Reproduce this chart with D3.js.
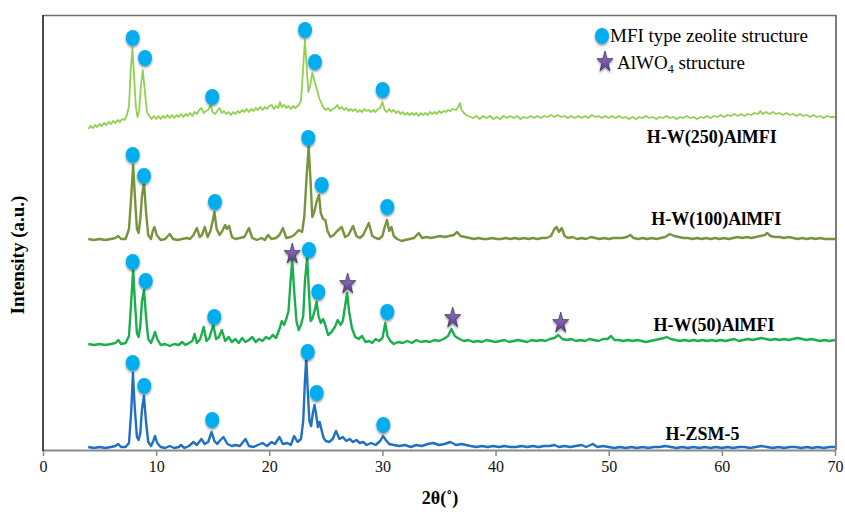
<!DOCTYPE html>
<html>
<head>
<meta charset="utf-8">
<script src="https://cdn.jsdelivr.net/npm/d3@7/dist/d3.min.js"></script>
<style>
  html, body { margin: 0; padding: 0; background: #fff; }
  svg { display: block; }
  text { font-family: "Liberation Serif", "Times New Roman", serif; }
</style>
</head>
<body>
<svg id="chart" width="845" height="514"></svg>
<script>
// ---------------- DATA ----------------
const xTicks = [0, 10, 20, 30, 40, 50, 60, 70];
const seriesNames = ["H-ZSM-5", "H-W(50)AlMFI", "H-W(100)AlMFI", "H-W(250)AlMFI"];
const seriesColors = ["#1f6fc2", "#1aae4c", "#77933c", "#92d050"];

// 2θ (deg), intensity (a.u., stacked)
const hzsm5 = [[4.0,4],[4.5,3],[5.0,4],[5.5,3],[6.0,4],[6.4,5],[6.65,7],[6.9,4],[7.3,4],[7.6,8],[7.8,40],[7.95,78],[8.1,45],[8.3,14],[8.45,11],[8.6,18],[8.75,42],[8.92,55],[9.1,30],[9.3,9],[9.55,5],[9.75,10],[9.9,15],[10.1,8],[10.4,4],[10.8,3],[11.2,5],[11.6,3],[12.0,4],[12.2,6],[12.5,3],[12.9,5],[13.3,9],[13.6,6],[14.0,12],[14.3,7],[14.6,9],[14.9,19],[15.15,10],[15.4,7],[15.6,10],[15.95,14],[16.3,7],[16.7,5],[17.0,6],[17.4,5],[17.9,12],[18.2,5],[18.6,4],[19.0,6],[19.4,8],[19.8,5],[20.2,9],[20.5,7],[20.9,14],[21.2,7],[21.6,8],[21.9,6],[22.2,15],[22.5,9],[22.8,12],[23.0,30],[23.15,70],[23.27,93],[23.4,60],[23.55,30],[23.7,25],[23.85,38],[24.0,46],[24.15,36],[24.3,24],[24.45,29],[24.6,22],[24.8,13],[25.0,10],[25.3,9],[25.6,12],[25.9,20],[26.2,12],[26.5,14],[26.8,10],[27.1,12],[27.4,9],[27.7,11],[28.0,8],[28.3,9],[28.6,6],[29.0,8],[29.4,6],[29.8,10],[30.05,15],[30.3,11],[30.6,7],[31.0,6],[31.5,5],[32.0,6],[32.5,4],[33.0,6],[33.5,5],[34.0,7],[34.5,8],[35.0,6],[35.5,7],[36.0,9],[36.5,6],[37.0,7],[37.4,6],[37.8,5],[38.3,4],[38.8,5],[39.3,4],[39.8,5],[40.3,4],[40.8,5],[41.3,4],[41.8,4],[42.3,5],[42.8,4],[43.3,5],[43.8,4],[44.3,5],[44.8,5],[45.2,6],[45.6,4],[46.1,5],[46.6,4],[47.1,5],[47.6,6],[48.0,4],[48.6,7],[49.0,4],[49.5,5],[50.0,4],[50.5,3],[51.0,4],[51.5,3],[52.0,4],[52.5,3],[53.0,4],[53.5,3],[54.0,4],[54.5,4],[55.0,5],[55.5,4],[56.0,3],[56.5,4],[57.0,3],[57.5,4],[58.0,3],[58.5,4],[59.0,3],[59.5,4],[60.0,3],[60.5,4],[61.0,3],[61.5,4],[62.0,4],[62.5,3],[63.0,4],[63.5,5],[64.0,4],[64.5,3],[65.0,4],[65.5,3],[66.0,4],[66.5,4],[67.0,3],[67.5,4],[68.0,3],[68.5,4],[69.0,3],[69.5,4],[70.0,4]];

const hw50 = [[4.0,107],[4.5,106],[5.0,107],[5.5,106],[6.0,107],[6.4,108],[6.65,111],[6.9,107],[7.3,108],[7.6,115],[7.8,150],[7.97,181],[8.12,150],[8.3,118],[8.45,114],[8.6,125],[8.75,150],[8.93,161],[9.1,135],[9.3,112],[9.55,108],[9.75,114],[9.9,119],[10.1,112],[10.4,106],[10.8,107],[11.2,105],[11.6,107],[12.0,106],[12.3,109],[12.6,106],[12.9,108],[13.2,110],[13.4,117],[13.6,108],[13.9,112],[14.2,124],[14.45,110],[14.7,113],[15.05,126],[15.3,112],[15.55,114],[15.8,121],[16.1,110],[16.4,114],[16.7,109],[17.0,112],[17.3,108],[17.6,113],[17.9,109],[18.2,111],[18.5,114],[18.8,109],[19.1,112],[19.4,110],[19.7,114],[20.0,112],[20.3,116],[20.6,113],[20.9,122],[21.1,130],[21.3,126],[21.5,132],[21.7,140],[21.85,165],[22.03,191],[22.2,160],[22.4,130],[22.6,121],[22.8,126],[23.0,135],[23.15,170],[23.35,194],[23.5,160],[23.65,130],[23.8,132],[24.0,140],[24.18,149],[24.35,135],[24.55,128],[24.75,132],[24.95,126],[25.2,116],[25.5,119],[25.8,124],[26.05,131],[26.3,126],[26.5,130],[26.7,145],[26.88,158],[27.05,140],[27.3,123],[27.6,114],[27.9,112],[28.2,115],[28.5,109],[28.8,110],[29.1,108],[29.4,112],[29.7,110],[30.0,113],[30.25,128],[30.45,115],[30.7,110],[31.0,107],[31.4,109],[31.8,108],[32.2,110],[32.6,108],[33.0,111],[33.4,109],[33.8,110],[34.2,109],[34.6,111],[35.0,110],[35.4,112],[35.8,115],[36.1,122],[36.4,115],[36.8,112],[37.2,110],[37.6,111],[38.0,109],[38.4,110],[38.8,109],[39.2,111],[39.6,110],[40.0,109],[40.4,110],[40.8,111],[41.2,109],[41.6,110],[42.0,111],[42.4,110],[42.8,109],[43.2,111],[43.6,110],[44.0,111],[44.4,110],[44.8,112],[45.2,113],[45.55,116],[45.9,112],[46.3,111],[46.7,112],[47.1,110],[47.5,111],[47.9,110],[48.3,112],[48.7,111],[49.1,110],[49.5,112],[49.9,112],[50.2,115],[50.5,111],[50.9,111],[51.3,110],[51.7,111],[52.1,110],[52.5,111],[52.9,110],[53.3,109],[53.7,110],[54.1,111],[54.5,112],[54.9,113],[55.1,114],[55.5,112],[55.9,111],[56.3,110],[56.7,111],[57.1,110],[57.5,111],[57.9,110],[58.3,111],[58.7,110],[59.1,111],[59.5,110],[59.9,111],[60.3,110],[60.7,111],[61.1,112],[61.5,110],[61.9,111],[62.3,112],[62.7,111],[63.1,112],[63.5,113],[63.9,112],[64.3,111],[64.7,112],[65.1,111],[65.5,112],[65.9,111],[66.3,112],[66.7,113],[67.1,112],[67.5,111],[67.9,112],[68.3,111],[68.7,110],[69.1,111],[69.5,110],[70.0,111]];

const hw100 = [[4.0,212],[4.5,211],[5.0,212],[5.5,211],[6.0,212],[6.4,213],[6.65,215],[6.9,212],[7.3,212],[7.6,222],[7.8,255],[7.97,286],[8.12,255],[8.3,222],[8.45,218],[8.6,232],[8.75,255],[8.93,269],[9.1,240],[9.3,216],[9.55,212],[9.7,220],[9.85,224],[10.05,216],[10.4,211],[10.8,212],[11.2,217],[11.5,212],[11.9,211],[12.3,212],[12.7,213],[13.0,212],[13.3,216],[13.6,223],[13.85,214],[14.05,216],[14.3,224],[14.55,214],[14.8,220],[15.0,230],[15.15,239],[15.35,222],[15.6,216],[15.85,220],[16.1,226],[16.25,222],[16.45,225],[16.7,214],[17.0,212],[17.4,213],[17.8,214],[18.2,223],[18.5,213],[18.9,211],[19.3,213],[19.6,211],[19.9,216],[20.2,212],[20.6,213],[20.9,216],[21.2,223],[21.5,213],[21.9,214],[22.2,216],[22.6,221],[22.9,219],[23.1,235],[23.3,275],[23.48,304],[23.65,270],[23.8,234],[23.95,238],[24.2,250],[24.4,256],[24.55,238],[24.75,232],[24.95,231],[25.15,220],[25.4,214],[25.7,216],[26.0,220],[26.4,224],[26.7,214],[27.0,216],[27.4,225],[27.7,215],[28.0,213],[28.3,216],[28.8,228],[29.1,215],[29.4,213],[29.7,212],[30.0,215],[30.2,224],[30.4,231],[30.6,220],[30.8,224],[31.0,215],[31.3,212],[31.7,210],[32.0,211],[32.4,212],[32.8,213],[33.2,218],[33.5,213],[33.9,214],[34.3,213],[34.7,214],[35.1,215],[35.5,214],[35.9,215],[36.3,216],[36.6,219],[36.9,215],[37.3,214],[37.7,213],[38.1,212],[38.5,213],[38.9,212],[39.3,212],[39.7,213],[40.1,212],[40.5,212],[40.9,213],[41.3,212],[41.7,213],[42.1,212],[42.5,213],[42.9,212],[43.3,213],[43.7,212],[44.1,213],[44.5,213],[44.9,215],[45.2,222],[45.4,224],[45.6,219],[45.85,223],[46.1,215],[46.4,213],[46.8,214],[47.2,212],[47.6,213],[48.0,212],[48.4,214],[48.8,213],[49.2,212],[49.6,213],[50.0,212],[50.4,213],[50.8,213],[51.2,213],[51.6,214],[51.9,216],[52.2,213],[52.6,212],[53.0,213],[53.4,212],[53.8,213],[54.2,212],[54.6,213],[55.0,214],[55.4,217],[55.8,215],[56.2,214],[56.6,213],[57.0,213],[57.4,212],[57.8,213],[58.2,212],[58.6,213],[59.0,212],[59.4,213],[59.8,212],[60.2,213],[60.6,212],[61.0,213],[61.4,214],[61.8,213],[62.2,214],[62.6,213],[63.0,214],[63.4,215],[63.8,216],[64.0,218],[64.3,215],[64.7,214],[65.1,214],[65.5,213],[65.9,214],[66.3,213],[66.7,212],[67.1,213],[67.5,212],[67.9,213],[68.3,212],[68.7,213],[69.1,212],[69.5,212],[70.0,212]];

const hw250 = [[4.0,322],[4.2,325],[4.4,323],[4.6,326],[4.8,324],[5.0,327],[5.2,325],[5.4,328],[5.6,326],[5.8,329],[6.0,327],[6.2,330],[6.4,328],[6.6,331],[6.8,329],[7.0,332],[7.2,331],[7.4,335],[7.6,345],[7.75,380],[7.9,403],[8.05,375],[8.2,345],[8.35,334],[8.5,340],[8.65,365],[8.82,381],[9.0,360],[9.2,338],[9.4,335],[9.6,332],[9.8,335],[10.0,332],[10.2,335],[10.4,332],[10.6,335],[10.8,333],[11.0,336],[11.2,333],[11.4,336],[11.6,333],[11.8,336],[12.0,334],[12.2,337],[12.4,334],[12.6,337],[12.8,335],[13.0,338],[13.2,335],[13.4,339],[13.6,337],[13.8,341],[14.0,343],[14.2,338],[14.4,340],[14.6,341],[14.8,346],[15.0,339],[15.2,337],[15.4,340],[15.6,343],[15.8,338],[16.0,340],[16.2,337],[16.4,339],[16.6,336],[16.8,339],[17.0,337],[17.2,340],[17.4,338],[17.6,341],[17.8,339],[18.0,342],[18.2,339],[18.4,342],[18.6,340],[18.8,343],[19.0,341],[19.2,344],[19.4,341],[19.6,344],[19.8,342],[20.0,345],[20.2,346],[20.4,342],[20.6,345],[20.8,343],[20.95,349],[21.1,344],[21.3,346],[21.5,343],[21.7,345],[21.9,342],[22.1,345],[22.3,343],[22.6,346],[22.8,350],[22.95,375],[23.15,411],[23.3,385],[23.45,359],[23.6,365],[23.8,378],[23.95,372],[24.1,366],[24.25,360],[24.4,353],[24.6,348],[24.8,343],[25.0,341],[25.2,343],[25.4,340],[25.6,342],[25.8,343],[26.0,346],[26.2,342],[26.4,344],[26.6,341],[26.8,343],[27.0,340],[27.2,342],[27.4,340],[27.6,342],[27.8,339],[28.0,341],[28.2,339],[28.4,342],[28.6,340],[28.8,341],[29.0,339],[29.2,341],[29.4,339],[29.6,342],[29.8,343],[30.0,349],[30.2,341],[30.4,339],[30.6,342],[30.8,339],[31.0,341],[31.2,338],[31.4,340],[31.6,337],[31.8,339],[32.0,336],[32.2,338],[32.4,336],[32.6,338],[32.8,336],[33.0,338],[33.2,335],[33.4,338],[33.6,336],[33.8,338],[34.0,336],[34.2,339],[34.4,337],[34.6,339],[34.8,337],[35.0,340],[35.2,338],[35.4,340],[35.6,339],[35.8,341],[36.0,340],[36.2,342],[36.5,341],[36.7,344],[36.85,348],[37.0,341],[37.2,338],[37.4,336],[37.6,335],[37.8,334],[38.0,333],[38.3,335],[38.6,332],[38.9,335],[39.2,333],[39.5,335],[39.8,332],[40.1,334],[40.4,332],[40.7,335],[41.0,333],[41.3,335],[41.6,333],[41.9,335],[42.2,332],[42.5,334],[42.8,333],[43.1,335],[43.4,333],[43.7,335],[44.0,333],[44.3,335],[44.6,334],[44.9,336],[45.2,334],[45.5,336],[45.8,334],[46.1,335],[46.4,333],[46.7,335],[47.0,333],[47.3,335],[47.6,333],[47.9,335],[48.2,333],[48.5,336],[48.8,334],[49.1,335],[49.4,333],[49.7,335],[50.0,333],[50.3,335],[50.6,333],[50.9,335],[51.2,333],[51.5,334],[51.8,332],[52.1,334],[52.4,332],[52.7,334],[53.0,333],[53.3,335],[53.6,333],[53.9,334],[54.2,332],[54.5,334],[54.8,333],[55.1,335],[55.4,333],[55.7,334],[56.0,332],[56.3,334],[56.6,333],[56.9,335],[57.2,333],[57.5,334],[57.8,332],[58.1,334],[58.4,333],[58.7,335],[59.0,333],[59.3,335],[59.6,334],[59.9,336],[60.2,334],[60.5,336],[60.8,335],[61.1,337],[61.4,335],[61.7,337],[62.0,335],[62.3,337],[62.6,336],[62.9,338],[63.2,337],[63.4,340],[63.6,337],[63.9,339],[64.2,337],[64.5,339],[64.8,337],[65.1,338],[65.4,336],[65.7,338],[66.0,336],[66.3,337],[66.6,335],[66.9,337],[67.2,335],[67.5,336],[67.8,334],[68.1,336],[68.4,334],[68.7,335],[69.0,333],[69.3,335],[69.6,334],[70.0,334]];

// Peak annotations: [2θ, intensity]
const mfiMarks = [
  [7.93,88],[8.95,65],[14.96,31],[23.4,99],[24.19,58],[30.08,26],
  [7.93,189],[9.08,170],[15.14,134],[23.51,201],[24.33,159],[30.43,139],
  [7.93,296],[8.93,275],[15.2,249],[23.45,313],[24.63,266],[30.43,244],
  [7.93,413],[9.02,393],[14.96,354],[23.16,421],[24.04,389],[30.02,361]
];
const alwoMarks = [[22.03,198],[26.93,168],[36.21,134],[45.76,129]];

const legendLabels = ["MFI type zeolite structure", "AlWO", "4", " structure"];
const xTitle = "2θ(˚)";
const yTitle = "Intensity (a.u.)";

// ---------------- LAYOUT ----------------
const allSeries = [hzsm5, hw50, hw100, hw250];
const lineWidths = [2.4, 2.4, 2.4, 1.8];
const labelPos = [[58.3, 11], [59.3, 120], [59.5, 226], [59.1, 308]];

const svg = d3.select("#chart");
svg.append("rect").attr("width", 845).attr("height", 514).attr("fill", "#fff");

const defs = svg.append("defs");
const sh = defs.append("filter").attr("id", "shadow").attr("x", "-50%").attr("y", "-50%").attr("width", "200%").attr("height", "200%");
sh.append("feDropShadow").attr("dx", 0).attr("dy", 1.5).attr("stdDeviation", 1.2).attr("flood-color", "#000").attr("flood-opacity", 0.45);
const grad = defs.append("linearGradient").attr("id", "starGrad").attr("x1", 0).attr("y1", 0).attr("x2", 0).attr("y2", 1);
grad.append("stop").attr("offset", "0%").attr("stop-color", "#9b7fc7");
grad.append("stop").attr("offset", "100%").attr("stop-color", "#5b3f8c");

const x = d3.scaleLinear().domain([0, 70]).range([43, 835]);
const y = d3.scaleLinear().domain([0, 436]).range([451, 15]);

// frame
svg.append("line").attr("x1", 43).attr("x2", 836).attr("y1", 15.5).attr("y2", 15.5).attr("stroke", "#6e6e6e").attr("stroke-width", 1.5);
svg.append("line").attr("x1", 836).attr("x2", 836).attr("y1", 15).attr("y2", 450).attr("stroke", "#6e6e6e").attr("stroke-width", 1.8);

// x axis
const ax = svg.append("g").attr("transform", "translate(0,450)")
  .call(d3.axisBottom(x).tickValues(xTicks).tickSize(6).tickSizeOuter(0).tickPadding(5).tickFormat(d3.format("d")));
ax.select(".domain").attr("stroke", "#8a8a8a").attr("stroke-width", 1.8);
ax.selectAll(".tick line").attr("stroke", "#8a8a8a").attr("stroke-width", 1.5);
ax.selectAll(".tick text").attr("font-family", "Liberation Serif").attr("font-size", 16).attr("fill", "#111");

// left axis line
svg.append("line").attr("x1", 43).attr("x2", 43).attr("y1", 15).attr("y2", 451).attr("stroke", "#111").attr("stroke-width", 1.5);

// series
const line = d3.line().x(d => x(d[0])).y(d => y(d[1])).curve(d3.curveLinear);
allSeries.forEach((s, i) => {
  svg.append("path").datum(s).attr("d", line).attr("fill", "none")
    .attr("stroke", seriesColors[i]).attr("stroke-width", lineWidths[i]).attr("stroke-linejoin", "round");
});

// series labels
seriesNames.forEach((n, i) => {
  svg.append("text").attr("x", x(labelPos[i][0])).attr("y", y(labelPos[i][1]))
    .attr("text-anchor", "middle").attr("font-size", 18).attr("font-weight", "bold").attr("fill", "#000").text(n);
});

// markers
const circ = (g, cx, cy) => g.append("ellipse").attr("cx", cx).attr("cy", cy).attr("rx", 7).attr("ry", 8)
  .attr("fill", "#00aeef").attr("filter", "url(#shadow)");
const starPath = d3.symbol().type(d3.symbolStar).size(110)();
const star = (g, cx, cy) => g.append("path").attr("d", starPath)
  .attr("transform", `translate(${cx},${cy + 1}) scale(0.85,1.1)`)
  .attr("fill", "url(#starGrad)").attr("stroke", "#3d2a66").attr("stroke-width", 0.8).attr("filter", "url(#shadow)");

const mg = svg.append("g");
mfiMarks.forEach(d => circ(mg, x(d[0]), y(d[1])));
alwoMarks.forEach(d => star(mg, x(d[0]), y(d[1])));

// legend
circ(svg, 602, 36);
svg.append("text").attr("x", 610).attr("y", 42).attr("font-size", 19).attr("fill", "#000").text(legendLabels[0]);
star(svg, 605, 61);
const t2 = svg.append("text").attr("x", 617).attr("y", 68.5).attr("font-size", 19).attr("fill", "#000");
t2.append("tspan").text(legendLabels[1]);
t2.append("tspan").attr("font-size", 12).attr("dy", 4).text(legendLabels[2]);
t2.append("tspan").attr("dy", -4).text(legendLabels[3]);

// axis titles
svg.append("text").attr("x", 440).attr("y", 504).attr("text-anchor", "middle")
  .attr("font-size", 18).attr("font-weight", "bold").attr("fill", "#000").text(xTitle);
svg.append("text").attr("transform", "translate(24,255) rotate(-90)").attr("text-anchor", "middle")
  .attr("font-size", 19).attr("font-weight", "bold").attr("fill", "#000").text(yTitle);
</script>
</body>
</html>
